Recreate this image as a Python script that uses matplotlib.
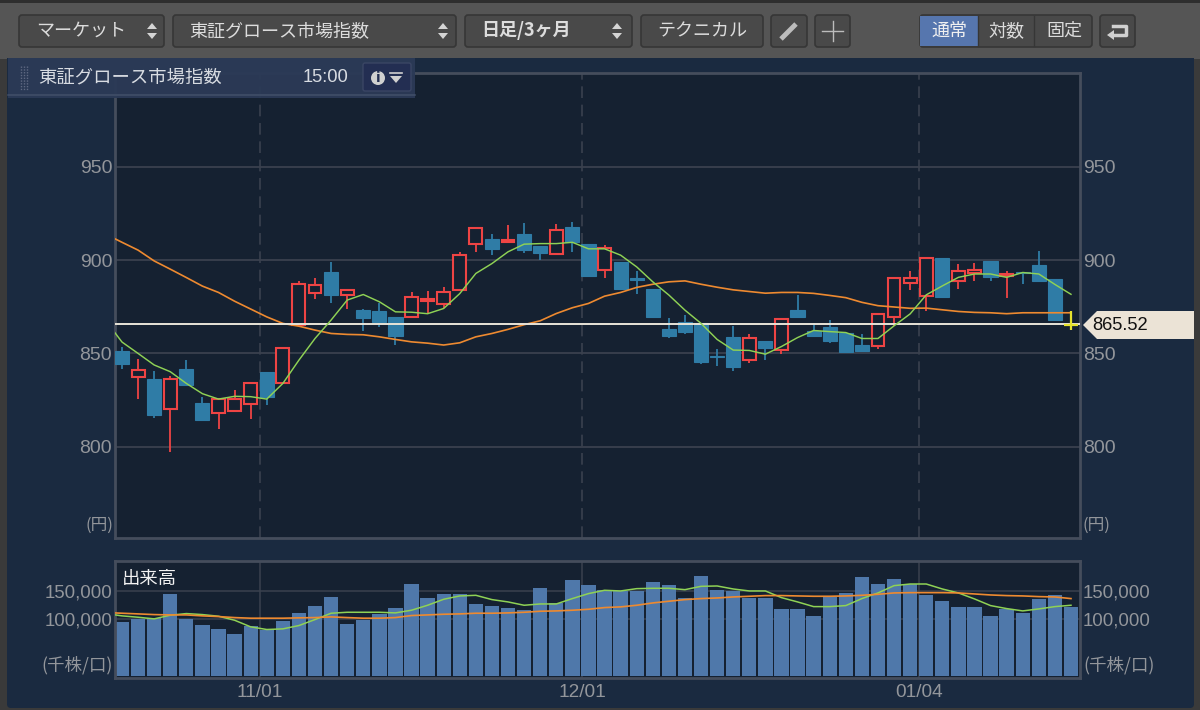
import matplotlib
matplotlib.use('Agg')
import matplotlib.pyplot as plt
import numpy as np
from matplotlib.patches import FancyBboxPatch, Polygon, Rectangle, Circle

plt.rcParams['font.family'] = ['Noto Sans CJK JP', 'DejaVu Sans']

# daily candles, index points (pt)
opens = [851.1, 837.5, 836.3, 820.2, 841.6, 823.2, 817.9, 819.3, 822.9, 840.2,
         833.9, 865.0, 882.3, 893.9, 881.1, 873.2, 872.9, 869.5, 869.3, 877.9,
         876.3, 883.9, 908.8, 911.1, 909.8, 914.3, 907.5, 903.4, 917.7, 908.8,
         894.6, 898.9, 890.5, 884.3, 862.9, 867.0, 866.3, 848.6, 858.8, 846.4,
         856.9, 852.1, 873.5, 861.9, 864.2, 860.9, 854.4, 853.9, 869.6, 887.7,
         880.8, 901.2, 889.0, 892.9, 899.6, 891.5, 893.8, 897.3, 889.9, 865.5]
highs = [853.2, 847.0, 840.7, 837.9, 846.3, 826.8, 825.5, 830.2, 833.9, 840.2,
         853.0, 888.8, 890.7, 898.9, 884.8, 873.6, 876.8, 869.5, 882.7, 883.4,
         885.4, 904.6, 917.1, 913.8, 918.8, 920.2, 907.5, 919.6, 920.7, 908.8,
         908.4, 898.9, 894.3, 884.3, 868.8, 870.4, 866.3, 852.5, 864.6, 860.2,
         856.9, 868.7, 881.3, 866.2, 868.0, 860.9, 860.5, 871.9, 890.4, 894.3,
         901.8, 901.2, 898.0, 898.4, 899.6, 894.3, 893.8, 904.8, 889.9, 872.5]
lows = [841.8, 825.4, 815.5, 797.0, 833.2, 814.1, 809.3, 819.3, 814.6, 822.1,
        833.9, 865.0, 879.3, 877.1, 873.6, 862.0, 864.3, 854.5, 869.3, 871.0,
        874.1, 883.9, 904.5, 902.7, 909.8, 903.9, 900.0, 903.4, 904.5, 891.3,
        890.4, 884.3, 881.8, 869.8, 858.2, 860.5, 844.3, 843.4, 840.7, 845.0,
        846.3, 849.8, 869.4, 859.4, 855.5, 850.5, 851.4, 852.3, 864.8, 884.2,
        872.8, 880.3, 884.7, 889.0, 889.0, 879.8, 887.0, 888.8, 867.9, 862.4]
closes = [844.5, 840.9, 816.8, 836.1, 833.2, 814.1, 825.5, 825.4, 833.9, 826.8,
          853.0, 887.1, 886.8, 881.4, 883.9, 869.1, 866.6, 859.5, 880.4, 879.3,
          883.0, 902.7, 917.1, 906.1, 910.7, 905.7, 904.1, 916.3, 910.0, 891.3,
          906.6, 884.3, 889.5, 869.8, 859.6, 861.6, 845.2, 847.9, 842.9, 858.2,
          852.7, 868.7, 869.4, 859.4, 856.4, 850.5, 851.4, 871.2, 890.4, 890.7,
          901.0, 880.3, 894.0, 895.0, 891.1, 892.7, 892.9, 888.8, 867.9, 865.5]

# moving averages start one session left of the first candle (clipped by the frame)
ma_short = [867.5, 856.1, 850.0, 843.8, 840.2, 833.9, 828.4, 825.5, 827.0, 826.8,
            825.5, 833.9, 846.4, 858.0, 867.9, 878.6, 881.6, 877.7, 872.3, 872.1,
            871.3, 874.1, 882.1, 892.9, 898.2, 904.5, 908.6, 908.9, 908.9, 909.6,
            906.1, 906.1, 902.7, 896.4, 888.4, 881.3, 873.2, 866.1, 857.5, 851.8,
            851.6, 849.6, 853.7, 858.5, 862.3, 861.7, 861.2, 858.0, 858.0, 864.8,
            871.2, 881.4, 886.2, 890.8, 892.6, 892.6, 890.8, 893.4, 892.6, 887.0, 881.7]
ma_long = [913.9, 909.6, 905.4, 899.6, 895.2, 890.7, 886.1, 882.7, 878.0, 873.8,
           869.6, 866.1, 864.6, 862.5, 860.7, 860.2, 860.0, 858.9, 857.5, 856.2,
           855.5, 854.5, 855.7, 858.9, 860.7, 862.9, 865.4, 867.5, 871.4, 874.5,
           876.8, 880.7, 882.7, 885.4, 887.1, 888.4, 888.9, 887.1, 885.5, 884.1,
           883.2, 882.3, 882.7, 882.7, 882.2, 881.1, 879.9, 877.4, 875.6, 874.9,
           874.2, 874.3, 873.4, 872.5, 872.0, 871.8, 871.3, 871.8, 871.8, 871.8, 871.8]

volume = [95300, 100000, 101800, 145300, 100600, 90000, 82900, 73500, 88800, 81800,
          96500, 111800, 124100, 138800, 92400, 99400, 110000, 120000, 162900, 137600,
          144100, 144100, 126500, 122900, 120000, 115900, 154700, 128800, 170000, 160600,
          151200, 150000, 150000, 165900, 160600, 138200, 177000, 152300, 150000, 137600,
          137600, 118200, 118200, 106500, 139400, 146500, 175300, 161700, 171100, 162900,
          142900, 132900, 121200, 121200, 106500, 118800, 111200, 135900, 142900, 121200]
vol_ma_short = [110000, 105900, 103500, 100600, 107100, 110000, 108200, 105300, 98200, 86500,
                81800, 82900, 88800, 99400, 110600, 112300, 112300, 112300, 111200, 115900,
                124700, 135300, 141200, 142300, 134700, 130600, 124700, 127000, 127000, 136500,
                145300, 151200, 150000, 154100, 154700, 154700, 152300, 158200, 158800, 153500,
                150000, 150000, 138200, 130600, 122300, 122300, 124100, 136500, 146500, 159400,
                162300, 162300, 153500, 146500, 135900, 124100, 118800, 114700, 118200, 122300, 124700]
vol_ma_long = [111800, 110600, 109400, 108200, 107600, 107600, 105900, 104700, 102900, 101800,
               101800, 101800, 102400, 102900, 104100, 102900, 101800, 101800, 102900, 106500,
               107600, 108800, 109400, 110600, 110600, 111200, 112300, 114100, 114700, 115900,
               117600, 120600, 121800, 124700, 128800, 131800, 134700, 136500, 137600, 139400,
               140600, 141800, 141800, 141200, 140600, 140600, 141200, 142300, 144100, 146500,
               147000, 147000, 147000, 146500, 144700, 142900, 141800, 141200, 140000, 139400, 136500]

last_price = 865.52
date_ticks = [8.58, 28.6, 49.55]
date_labels = ['11/01', '12/01', '01/04']
price_ticks = [800, 850, 900, 950]
volume_ticks = [100000, 150000]

GREY = '#93969b'
GRID = '#3a414e'
FRAME = '#454d5c'
PLOT_BG = '#152131'
PANEL = '#1a2a40'
RED = '#ee4444'
BLUE = '#2f7ca6'
GREEN = '#8fd255'
ORANGE = '#ee8a30'
W, H = 1200, 710


def axes_px(fig, x0, y0, x1, y1):
    return fig.add_axes([x0 / W, 1 - y1 / H, (x1 - x0) / W, (y1 - y0) / H])


def button(ax, x0, x1, label=None, bold=False, y0=15, y1=47, tx=None, face='#494949', fs=13):
    ax.add_patch(FancyBboxPatch((x0 + 3, y0 + 3), x1 - x0 - 6, y1 - y0 - 6,
                                boxstyle='round,pad=3', fc=face, ec='#363636', lw=1.2))
    if label:
        ax.text((x0 + x1) / 2 if tx is None else tx, (y0 + y1) / 2, label, color='#dcdcdc', fontsize=fs,
                ha='center' if tx is None else 'left', va='center',
                fontweight='bold' if bold else 'normal')


def updown(ax, x, y=31):
    ax.add_patch(Polygon([(x - 5, y - 2), (x + 5, y - 2), (x, y - 8)], fc='#d4d4d4'))
    ax.add_patch(Polygon([(x - 5, y + 2), (x + 5, y + 2), (x, y + 8)], fc='#d4d4d4'))


def main():
    fig = plt.figure(figsize=(12, 7.1), dpi=100, facecolor='#3a3a3a')

    # window chrome, in pixels
    bg = axes_px(fig, 0, 0, W, H)
    bg.set_xlim(0, W)
    bg.set_ylim(H, 0)
    bg.axis('off')
    bg.add_patch(Rectangle((0, 3), W, 56, fc='#555555', ec='none'))
    bg.add_patch(Rectangle((0, 0), W, 3, fc='#2e2e2e', ec='none'))
    bg.add_patch(FancyBboxPatch((11, 62), 1179, 642, boxstyle='round,pad=4', fc=PANEL, ec='none'))
    bg.add_patch(Rectangle((7, 58), 1187, 20, fc=PANEL, ec='none'))
    button(bg, 19, 164, 'マーケット', tx=36)
    updown(bg, 152)
    button(bg, 173, 456, '東証グロース市場指数', tx=189)
    updown(bg, 443)
    button(bg, 465, 632, '日足/3ヶ月', bold=True, tx=481)
    updown(bg, 617)
    button(bg, 641, 763, 'テクニカル')
    button(bg, 771, 807)
    bg.plot([781, 796], [39, 24], color='#bcbcbc', lw=3.5, solid_capstyle='butt')
    button(bg, 815, 850)
    bg.plot([832.5, 832.5], [21, 41], color='#bcbcbc', lw=1)
    bg.plot([822, 843], [31, 31], color='#bcbcbc', lw=1)
    button(bg, 920, 1092)
    bg.add_patch(Rectangle((920, 16), 58, 30, fc='#5676ae', ec='none'))
    bg.plot([978, 978], [16, 46], color='#363636', lw=1)
    bg.plot([1034, 1034], [16, 46], color='#363636', lw=1)
    bg.text(949, 31, '通常', color='#f0f0f0', fontsize=13, ha='center', va='center')
    bg.text(1006, 31, '対数', color='#dcdcdc', fontsize=13, ha='center', va='center')
    bg.text(1064, 31, '固定', color='#dcdcdc', fontsize=13, ha='center', va='center')
    button(bg, 1100, 1135)
    bg.plot([1113, 1126, 1126, 1113], [26, 26, 35, 35], color='#d0d0d0', lw=2.5)
    bg.add_patch(Polygon([(1107, 35), (1114, 30), (1114, 40)], fc='#d0d0d0'))

    x = np.arange(len(opens))
    x_ma = np.arange(-1, len(opens))
    xlim = (-0.435, 59.56)

    # candlestick panel
    ax = axes_px(fig, 115, 73, 1080, 538)
    ax.set_facecolor(PLOT_BG)
    ax.set_xlim(*xlim)
    ax.set_ylim(751, 1000.4)
    ax.set_yticks(price_ticks)
    ax.set_xticks(date_ticks)
    ax.set_xticklabels([])
    ax.grid(axis='y', color=GRID, lw=1.3)
    ax.grid(axis='x', color=GRID, lw=1.2, ls=(0, (7, 4)))
    ax.set_axisbelow(True)
    ax.tick_params(length=0, labelleft=True, labelright=True, pad=2, labelcolor=GREY)
    for lab in ax.get_yticklabels():
        lab.set_family('Liberation Sans')
        lab.set_fontsize(14)
    for s in ax.spines.values():
        s.set_color(FRAME)
        s.set_linewidth(2)

    for i in x:
        o, c = opens[i], closes[i]
        if c == o:
            continue
        col = RED if c > o else BLUE
        ax.vlines(i, lows[i], highs[i], color=col, lw=1.3, zorder=2)
        if c > o:
            ax.bar(i, c - o, bottom=o, width=0.8, fc=PLOT_BG, ec=col, lw=1.5, zorder=3)
        else:
            ax.bar(i, o - c, bottom=c, width=0.88, fc=col, ec=col, lw=0.8, zorder=3)
    # last session has no body yet: yellow cross
    ax.vlines(x[-1], lows[-1], highs[-1], color='#e6e22e', lw=1.6, zorder=6)
    ax.hlines(closes[-1], x[-1] - 0.42, x[-1] + 0.42, color='#e6e22e', lw=1.6, zorder=6)

    ax.plot(x_ma, ma_long, color=ORANGE, lw=1.2, zorder=4)
    ax.axhline(last_price, color='#e8e4d8', lw=1.4, zorder=5)
    ax.plot(x_ma, ma_short, color=GREEN, lw=1.05, zorder=5.5)

    # volume panel
    vx = axes_px(fig, 115, 561, 1080, 678)
    vx.set_facecolor(PLOT_BG)
    vx.set_xlim(*xlim)
    vx.set_ylim(-4000, 203000)
    vx.set_yticks(volume_ticks)
    vx.set_yticklabels(['100,000', '150,000'])
    vx.set_xticks(date_ticks)
    vx.set_xticklabels(date_labels)
    vx.grid(axis='both', color=GRID, lw=1.1)
    vx.set_axisbelow(True)
    vx.tick_params(length=0, labelleft=True, labelright=True, pad=2, labelcolor=GREY)
    vx.tick_params(axis='x', pad=4)
    for lab in vx.get_yticklabels():
        lab.set_family('Liberation Sans')
        lab.set_fontsize(13.4)
    for lab in vx.get_xticklabels():
        lab.set_family('Liberation Sans')
        lab.set_fontsize(13.7)
    for s in vx.spines.values():
        s.set_color(FRAME)
        s.set_linewidth(2)
    vx.bar(x, volume, width=0.89, color='#4f78aa', zorder=2)
    vx.plot(x_ma, vol_ma_short, color=GREEN, lw=1.1, zorder=3)
    vx.plot(x_ma, vol_ma_long, color=ORANGE, lw=1.2, zorder=4)

    # overlays on top of the plots
    top = axes_px(fig, 0, 0, W, H)
    top.set_xlim(0, W)
    top.set_ylim(H, 0)
    top.axis('off')
    top.patch.set_alpha(0)
    top.text(122, 579, '出来高', color='#f2f2f2', fontsize=13.2, va='center')
    for px in (113, 1083):
        ha = 'right' if px == 113 else 'left'
        top.text(px, 525, '(円)', color=GREY, fontsize=12, ha=ha, va='center')
        top.text(px, 665, '(千株/口)', color=GREY, fontsize=12.6, ha=ha, va='center')

    # floating title bar
    top.add_patch(Rectangle((8, 58), 407, 40, fc='#2b3a56', ec='none', alpha=0.96))
    top.plot([8, 415], [95, 95], color='#425069', lw=1.1)
    for dx in (21, 24, 27):
        top.plot([dx] * 2, [66, 90], color='#5f6982', lw=1, ls=(0, (1, 1)))
    top.text(38, 77, '東証グロース市場指数', color='#d8dce2', fontsize=13.2, va='center')
    top.text(348, 77, '15:00', color='#d8dce2', fontsize=13.2, ha='right', va='center', family='Liberation Sans')
    top.add_patch(FancyBboxPatch((365, 65), 44, 24, boxstyle='round,pad=2', fc='#232e52', ec='#3a4664', lw=1))
    top.add_patch(Circle((378, 78), 7, fc='#d0d0d0', ec='none'))
    top.text(378, 78, 'i', color='#232e52', fontsize=10, fontweight='bold', ha='center', va='center', family='DejaVu Sans')
    top.add_patch(Polygon([(390, 76), (402, 76), (396, 83)], fc='#d0d0d0'))
    top.plot([390, 402], [73, 73], color='#d0d0d0', lw=1.2)

    # last price tag
    top.add_patch(Polygon([(1083, 325), (1097, 311), (1194, 311), (1194, 339), (1097, 339)], fc='#ebe3d6', ec='none'))
    top.text(1092, 325, f'{last_price:.2f}', color='#111111', fontsize=13.2, va='center', family='Liberation Sans')

    fig.savefig('out.png', dpi=100, facecolor=fig.get_facecolor())


if __name__ == '__main__':
    main()
